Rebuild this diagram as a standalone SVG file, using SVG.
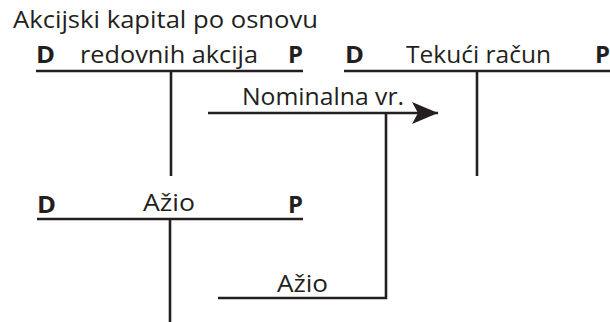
<svg xmlns="http://www.w3.org/2000/svg" width="610" height="322" viewBox="0 0 610 322">
<style>
text{font-family:"Open Sans","Liberation Sans",sans-serif;font-size:24px;fill:#231f20}
.b{font-weight:bold}
.ln{stroke:#231f20;stroke-width:2.6;fill:none}
</style>
<defs>
<marker id="ah" markerWidth="30" markerHeight="24" refX="26" refY="11" orient="auto" markerUnits="userSpaceOnUse">
<path d="M0,0 L26,11 L0,22 L6,11 Z" fill="#231f20"/>
</marker>
</defs>
<rect width="610" height="322" fill="#fff"/>
<g id="account-akcijski">
<text x="13" y="28" textLength="305" lengthAdjust="spacingAndGlyphs">Akcijski kapital po osnovu</text>
<text x="36" y="63" class="b" textLength="19" lengthAdjust="spacingAndGlyphs">D</text>
<text x="80" y="63" textLength="178" lengthAdjust="spacingAndGlyphs">redovnih akcija</text>
<text x="288" y="63" class="b" textLength="15" lengthAdjust="spacingAndGlyphs">P</text>
<path class="ln" d="M36,71 H303 M171,71 V176"/>
</g>
<g id="account-tekuci">
<text x="345" y="63" class="b" textLength="19" lengthAdjust="spacingAndGlyphs">D</text>
<text x="406" y="63" textLength="145" lengthAdjust="spacingAndGlyphs">Tekući račun</text>
<text x="595" y="63" class="b" textLength="15" lengthAdjust="spacingAndGlyphs">P</text>
<path class="ln" d="M344,71 H610 M477,71 V176"/>
</g>
<g id="account-azio">
<text x="37" y="213" class="b" textLength="19" lengthAdjust="spacingAndGlyphs">D</text>
<text x="143" y="211" textLength="52" lengthAdjust="spacingAndGlyphs">Ažio</text>
<text x="288" y="213" class="b" textLength="15" lengthAdjust="spacingAndGlyphs">P</text>
<path class="ln" d="M37,219 H303 M170,219 V322"/>
</g>
<g id="connectors">
<path class="ln" d="M208,113 H438" marker-end="url(#ah)"/>
<text x="242" y="105" textLength="162" lengthAdjust="spacingAndGlyphs">Nominalna vr.</text>
<path class="ln" d="M218,298 H386 V113"/>
<text x="277" y="292" textLength="51" lengthAdjust="spacingAndGlyphs">Ažio</text>
</g>
</svg>
